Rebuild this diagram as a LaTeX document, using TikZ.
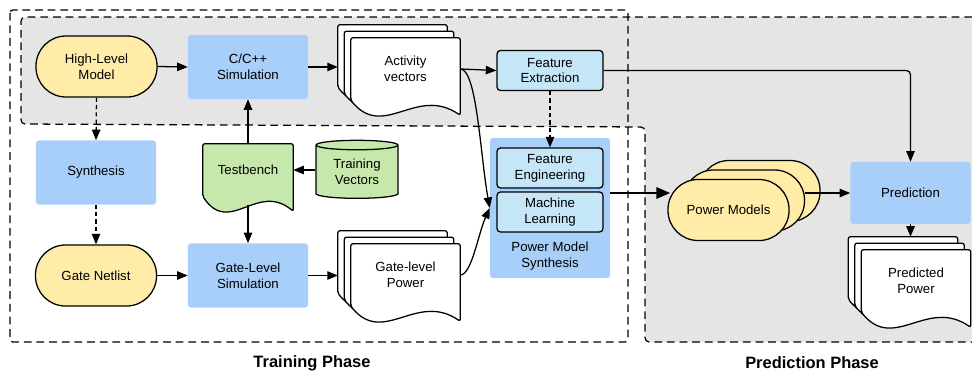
\documentclass[tikz,border=0pt]{standalone}
\usepackage{fontspec}
\setmainfont{Liberation Sans}
\usetikzlibrary{arrows.meta,positioning,calc,shapes.geometric}
\definecolor{c1}{RGB}{255,236,168}
\definecolor{c2}{RGB}{168,206,250}
\definecolor{c3}{RGB}{196,230,247}
\definecolor{c4}{RGB}{199,232,173}
\definecolor{c5}{RGB}{229,229,229}
\pgfdeclarelayer{bg}
\pgfdeclarelayer{docs}
\pgfsetlayers{bg,docs,main}

% page with a wavy bottom, drawn round a node
\newcommand{\docpath}[2]{%
  \filldraw[line width=0.9pt, fill=#2, rounded corners=1.5pt] (#1.south west) -- (#1.north west) -- (#1.north east) -- ($(#1.south east)+(0,15)$)
    .. controls ($(#1.south west)!0.6!(#1.south east)+(0,-15)$) and ($(#1.south west)!0.3!(#1.south east)+(0,40)$) .. (#1.south west) -- cycle;}

\begin{document}
\begin{tikzpicture}[
        x=0.025cm, y=-0.025cm,
        every node/.style={font=\fontsize{9.4}{11.3}\selectfont, align=center},
        term/.style={rectangle, draw, line width=0.9pt, fill=c1, rounded corners=0.75cm, minimum width=3.025cm, minimum height=1.525cm, inner sep=0},
        blk/.style={rectangle, fill=c2, rounded corners=2pt, minimum width=3cm, minimum height=1.6cm, inner sep=0},
        fbox/.style={rectangle, draw, line width=0.9pt, fill=c3, rounded corners=2.5pt, minimum width=2.65cm, minimum height=1cm, inner sep=0},
        docbox/.style={rectangle, minimum width=2.72cm, minimum height=1.55cm, inner sep=0},
        tbox/.style={rectangle, minimum width=2.25cm, minimum height=1.3cm, inner sep=0},
        cyl/.style={cylinder, shape border rotate=90, aspect=0.2, draw, line width=0.9pt, fill=c4, minimum width=2.05cm, minimum height=1.45cm, inner sep=0},
        dashline/.style={line width=0.9pt, dash pattern=on 5.5pt off 3.5pt},
        arr/.style={line width=0.9pt, -{Triangle[length=7.5pt,width=6pt]}},
        darr/.style={arr, dash pattern=on 3pt off 2.2pt},
        bigarr/.style={line width=1.9pt, -{Triangle[length=10pt,width=8pt]}},
        phase/.style={font=\fontsize{11.7}{14}\selectfont\bfseries},
    ]
    \useasboundingbox (0,0) rectangle (972,375);

    % Phase frames
    \begin{pgfonlayer}{bg}
        \fill[c5, rounded corners=3pt] (21,17) -- (972,17) -- (972,342) -- (645,342) -- (645,127) -- (21,124) -- cycle;
        \draw[dashline, rounded corners=3pt] (972,17) -- (21,17) -- (21,124) -- (645,127) -- (645,342) -- (972,342);
        \draw[dashline, rounded corners=2pt] (10,10) rectangle (628,342);
    \end{pgfonlayer}

    % Training flow
    \node[term] (hlm) at (96.5,66.5) {High-Level\\Model};
    \node[blk] (csim) at (248,67) {C/C++\\Simulation};
    \node[docbox] (av) at (405.5,69) {Activity\\vectors};
    \node[docbox, shift={(-6.5,-6.5)}] (av2) at (av) {};
    \node[docbox, shift={(-13,-13)}] (av3) at (av) {};
    \node[fbox] (fe) at (550,70.5) {Feature\\Extraction};

    \node[blk] (syn) at (96,172.5) {Synthesis};
    \node[tbox] (tb) at (248,170) {Testbench};
    \node[cyl] (tv) at (357,172) {Training\\Vectors};

    \node[term] (gn) at (96,275.5) {Gate Netlist};
    \node[blk] (gsim) at (248,275.5) {Gate-Level\\Simulation};
    \node[docbox] (gp) at (405.5,275) {Gate-level\\Power};
    \node[docbox, shift={(-6.5,-6.5)}] (gp2) at (gp) {};
    \node[docbox, shift={(-13,-13)}] (gp3) at (gp) {};

    % Power model synthesis
    \node[blk, minimum height=3.5cm] (pms) at (550,208) {};
    \node[fbox] (feng) at (550,168) {Feature\\Engineering};
    \node[fbox] (ml) at (550,212) {Machine\\Learning};
    \node (pmsl) at (550,256) {Power Model\\Synthesis};

    % Prediction flow
    \node[term] (pm3) at (759.5,191) {};
    \node[term, shift={(-15.5,9.5)}] (pm2) at (pm3) {};
    \node[term, shift={(-31,19)}] (pm) at (pm3) {Power Models};
    \node[blk, minimum height=1.55cm] (pred) at (910.5,193) {Prediction};
    \node[docbox] (pp) at (916,281) {Predicted\\Power};
    \node[docbox, shift={(-6.5,-6.5)}] (pp2) at (pp) {};
    \node[docbox, shift={(-13,-13)}] (pp3) at (pp) {};

    \begin{pgfonlayer}{docs}
        \docpath{av3}{white} \docpath{av2}{white} \docpath{av}{white}
        \docpath{gp3}{white} \docpath{gp2}{white} \docpath{gp}{white}
        \docpath{pp3}{white} \docpath{pp2}{white} \docpath{pp}{white}
        \docpath{tb}{c4}
    \end{pgfonlayer}

    % Connectors
    \draw[arr] (hlm.east) -- (csim.west);
    \draw[arr] (csim.east) -- (csim.east -| av3.west);
    \draw[arr] (av.east) -- (fe.west);
    \draw[darr] (hlm.south) -- (syn.north);
    \draw[darr] (syn.south) -- (gn.north);
    \draw[arr] (tb.north) -- (csim.south);
    \draw[arr] ($(tb.south)+(0,9)$) -- (gsim.north);
    \draw[arr] (tv.west |- tb) -- (tb.east);
    \draw[arr] (gn.east) -- (gsim.west);
    \draw[arr] (gsim.east) -- (gsim.east -| gp3.west);
    \draw[darr] (fe.south) -- (feng.north);
    \draw[arr, rounded corners=3pt] (fe.east) -| (pred.north);
    \draw[arr] (av.east) to[out=0, in=100, out looseness=0.3] (pms.west);
    \draw[arr] (gp.east) to[out=0, in=-114, out looseness=0.4] (pms.west);
    \draw[bigarr] (pms.east |- pred) -- ($(pm.west |- pred)+(3,0)$);
    \draw[arr] (pm2.east |- pred) -- (pred.west);
    \draw[arr] (pred.south) -- (pred.south |- pp3.north);

    % Phase titles
    \node[phase] (tph) at (312,363) {Training Phase};
    \node[phase] (pph) at (812,363) {Prediction Phase};
\end{tikzpicture}
\end{document}
